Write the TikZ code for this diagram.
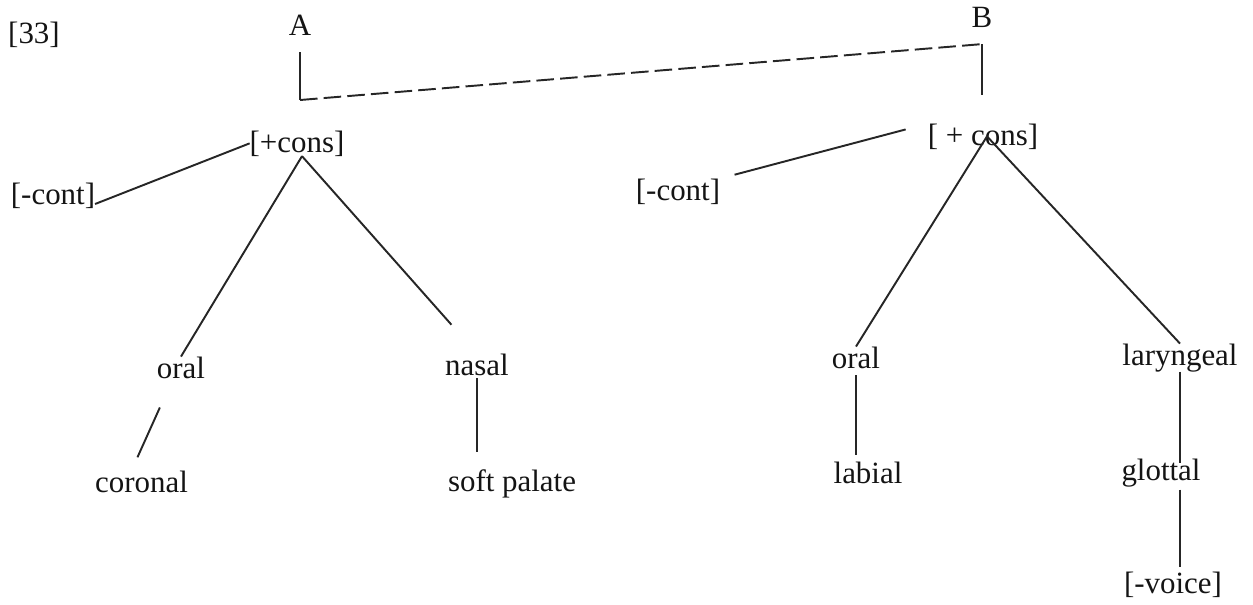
\documentclass[tikz,border=0pt]{standalone}
\usepackage{fontspec}
\setmainfont{Liberation Serif}

\begin{document}
\begin{tikzpicture}[font=\fontsize{17.6}{21}\selectfont,feat/.style={inner sep=0pt,outer sep=0pt,anchor=base,text=black!92},ln/.style={line width=1.1pt,draw=black!85}]
\useasboundingbox (0,0) rectangle (25.06,-12.08);
\node[feat] (num) at (0.68,-0.86) {[33]};
\node[feat] (A) at (6.00,-0.70) {A};
\node[feat] (B) at (19.64,-0.54) {B};
\node[feat] (lcons) at (5.94,-3.04) {[+cons]};
\node[feat] (lcont) at (1.06,-4.08) {[-cont]};
\node[feat] (loral) at (3.62,-7.56) {oral};
\node[feat] (lcoronal) at (2.83,-9.84) {coronal};
\node[feat] (lnasal) at (9.54,-7.50) {nasal};
\node[feat] (lsoft) at (10.24,-9.82) {soft palate};
\node[feat] (rcons) at (19.66,-2.90) {[ + cons]};
\node[feat] (rcont) at (13.56,-4.00) {[-cont]};
\node[feat] (roral) at (17.12,-7.36) {oral};
\node[feat] (rlabial) at (17.36,-9.66) {labial};
\node[feat] (rlaryn) at (23.60,-7.30) {laryngeal};
\node[feat] (rglottal) at (23.22,-9.60) {glottal};
\node[feat] (rvoice) at (23.46,-11.86) {[-voice]};
\coordinate (Ajoin) at (6.00,-2.00);
\coordinate (Bjoin) at (19.64,-1.90);
\coordinate (lapex) at ([xshift=.1cm]lcons.south);
\draw[ln,shorten <=.34cm] (A.south)--(Ajoin);
\draw[ln,shorten <=.34cm] (B.south)--(Bjoin);
\draw[ln,dash pattern=on 10pt off 3.5pt] (Ajoin)--([yshift=-.34cm]B.south);
\draw[ln] (lcont.base east)--(lcons.west);
\draw[ln] (lapex)--(loral.north);
\draw[ln,shorten >=.77cm] (lapex)--(lnasal.north);
\draw[ln,shorten <=.64cm,shorten >=.29cm] ([xshift=-.16cm]loral.south)--([xshift=-.2cm]lcoronal.north);
\draw[ln,shorten <=.06cm,shorten >=.34cm] (lnasal.south)--(lnasal.south|-lsoft.north);
\draw[ln,shorten <=.3cm,shorten >=.46cm] (rcont.north east)--(rcons.north west);
\draw[ln] ([xshift=.08cm]rcons.center)--(roral.north);
\draw[ln] ([xshift=.08cm]rcons.center)--(rlaryn.north);
\draw[ln,shorten <=.14cm,shorten >=.14cm] (roral.south)--(roral.south|-rlabial.north);
\draw[ln,shorten >=-.08cm] (rlaryn.south)--(rlaryn.south|-rglottal.north);
\draw[ln,shorten <=.06cm,shorten >=.1cm] (rglottal.south-|rlaryn.south)--(rvoice.north-|rlaryn.south);
\end{tikzpicture}
\end{document}
